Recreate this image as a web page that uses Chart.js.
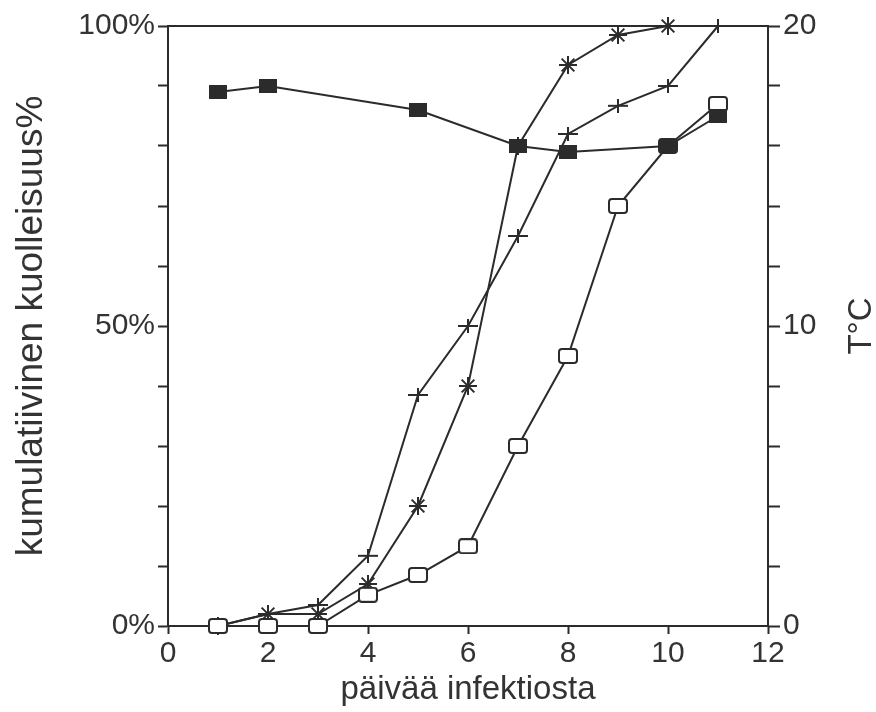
<!DOCTYPE html>
<html>
<head>
<meta charset="utf-8">
<script src="https://cdn.jsdelivr.net/npm/chart.js@4/dist/chart.umd.min.js"></script>
<style>
  body { margin: 0; background: #fff; }
</style>
</head>
<body>
<canvas id="myChart" width="876" height="712"></canvas>
<script>
// days after infection and the measured series
const days = [1, 2, 3, 4, 5, 6, 7, 8, 9, 10, 11];
const plusMortality = [0, 2, 3.5, 11.7, 38.5, 50, 65, 82, 86.7, 90, 100];
const starMortality = [0, 2, 2, 7, 20, 40, 80, 93.5, 98.5, 100];
const squareMortality = [0, 0, 0, 5.2, 8.5, 13.3, 30, 45, 70, 80, 87];

const tempDays = [1, 2, 5, 7, 8, 10, 11];
const tempValues = [17.8, 18.0, 17.2, 16.0, 15.8, 16.0, 17.0];

const xTicks = [0, 2, 4, 6, 8, 10, 12];
const leftLabels = [0, 50, 100];
const rightLabels = [0, 10, 20];

const ink = '#2b2b2b';
const textColor = '#333';
const tickFont = { family: 'Liberation Sans, Arial, sans-serif', size: 30 };
const titleFont = { family: 'Liberation Sans, Arial, sans-serif', size: 33, lineHeight: 1.2 };
const sideTitleFont = { family: 'Liberation Sans, Arial, sans-serif', size: 37, lineHeight: 1.2 };

function points(xs, ys) {
  return ys.map((v, i) => ({ x: xs[i], y: v }));
}

// small canvases used as marker shapes
function marker(w, h, draw) {
  const c = document.createElement('canvas');
  c.width = w; c.height = h;
  draw(c.getContext('2d'), w, h);
  return c;
}

const filledSquare = marker(18, 14, (g, w, h) => {
  g.fillStyle = ink;
  g.fillRect(0, 0, w, h);
});

const openSquare = marker(20, 16, (g, w, h) => {
  g.fillStyle = '#fff';
  g.strokeStyle = ink;
  g.lineWidth = 2;
  g.beginPath();
  g.roundRect(1, 1, w - 2, h - 2, 3);
  g.fill();
  g.stroke();
});

const plusMark = marker(20, 14, (g, w, h) => {
  g.strokeStyle = ink;
  g.lineWidth = 2;
  g.beginPath();
  g.moveTo(0, h / 2); g.lineTo(w, h / 2);
  g.moveTo(w / 2, 0); g.lineTo(w / 2, h);
  g.stroke();
});

const whiteBg = {
  id: 'whiteBg',
  beforeDraw(chart) {
    const c = chart.ctx;
    c.save();
    c.fillStyle = '#fff';
    c.fillRect(0, 0, chart.width, chart.height);
    c.restore();
  }
};

// right axis title reads bottom to top like the left one
const rightTitle = {
  id: 'rightTitle',
  afterDraw(chart) {
    const s = chart.scales.y2;
    const c = chart.ctx;
    c.save();
    c.translate(s.right - 14, (s.top + s.bottom) / 2);
    c.rotate(-Math.PI / 2);
    c.font = '33px "Liberation Sans", Arial, sans-serif';
    c.fillStyle = textColor;
    c.textAlign = 'center';
    c.textBaseline = 'middle';
    c.fillText('T°C', 0, 0);
    c.restore();
  }
};

const lineStyle = {
  borderColor: ink,
  borderWidth: 2,
  tension: 0,
  fill: false,
  clip: false,
  pointBorderColor: ink,
  pointBackgroundColor: ink,
  pointBorderWidth: 2
};

const ctx = document.getElementById('myChart');

new Chart(ctx, {
  type: 'line',
  data: {
    datasets: [
      Object.assign({
        label: 'T',
        data: points(tempDays, tempValues),
        yAxisID: 'y2',
        pointStyle: filledSquare
      }, lineStyle),
      Object.assign({
        label: 'a',
        data: points(days, squareMortality),
        yAxisID: 'y',
        pointStyle: openSquare
      }, lineStyle),
      Object.assign({
        label: 'b',
        data: points(days, starMortality),
        yAxisID: 'y',
        pointStyle: 'star',
        pointRadius: 9
      }, lineStyle),
      Object.assign({
        label: 'c',
        data: points(days, plusMortality),
        yAxisID: 'y',
        pointStyle: plusMark
      }, lineStyle)
    ]
  },
  options: {
    responsive: false,
    animation: false,
    layout: {
      padding: { top: 26, left: 0, right: 0, bottom: 0 }
    },
    plugins: {
      legend: { display: false },
      tooltip: { enabled: false }
    },
    scales: {
      x: {
        type: 'linear',
        position: 'bottom',
        min: 0,
        max: 12,
        afterBuildTicks: s => { s.ticks = xTicks.map(v => ({ value: v })); },
        ticks: { color: textColor, font: tickFont, padding: 2, maxRotation: 0, autoSkip: false },
        grid: { drawOnChartArea: false, tickLength: 8, tickWidth: 2, tickColor: ink },
        border: { display: true, color: ink, width: 2 },
        title: {
          display: true,
          text: 'päivää infektiosta',
          color: textColor,
          font: titleFont,
          padding: { top: 0, bottom: 2 }
        },
        afterFit: s => { s.height = 86; }
      },
      xTop: {
        type: 'linear',
        position: 'top',
        min: 0,
        max: 12,
        ticks: { display: false },
        grid: { drawOnChartArea: false, drawTicks: false },
        border: { display: true, color: ink, width: 2 },
        afterFit: s => { s.height = 0; }
      },
      y: {
        position: 'left',
        min: 0,
        max: 100,
        ticks: {
          stepSize: 10,
          color: textColor,
          font: tickFont,
          padding: 3,
          callback: v => leftLabels.includes(v) ? v + '%' : ''
        },
        grid: { drawOnChartArea: false, tickLength: 10, tickWidth: 2, tickColor: ink },
        border: { display: true, color: ink, width: 2 },
        title: {
          display: true,
          text: 'kumulatiivinen kuolleisuus%',
          color: textColor,
          font: sideTitleFont,
          padding: { top: 10, bottom: 0 }
        },
        afterFit: s => { s.width = 168; }
      },
      y2: {
        position: 'right',
        min: 0,
        max: 20,
        ticks: {
          stepSize: 2,
          color: textColor,
          font: tickFont,
          padding: 3,
          callback: v => rightLabels.includes(v) ? v : ''
        },
        grid: { drawOnChartArea: false, tickLength: 12, tickWidth: 2, tickColor: ink },
        border: { display: true, color: ink, width: 2 },
        afterFit: s => { s.width = 108; }
      }
    }
  },
  plugins: [whiteBg, rightTitle]
});
</script>
</body>
</html>
